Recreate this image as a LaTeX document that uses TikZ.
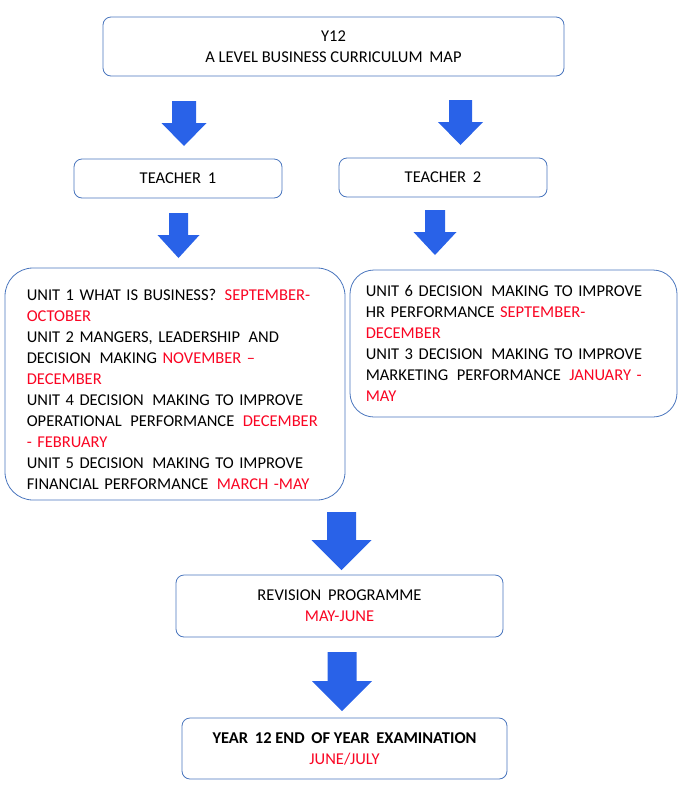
\documentclass[tikz,border=0pt]{standalone}
\usepackage{fontspec}
\setmainfont{Carlito}
\usepackage{xcolor}
\usepackage{tikz}
\usetikzlibrary{positioning}

\definecolor{boxline}{RGB}{74,118,190}
\definecolor{arrowblue}{RGB}{41,98,232}
\definecolor{datered}{RGB}{250,5,35}

% block arrow pointing down: centre x, top y, head start y, tip y, shaft half, head half
\newcommand{\downblock}[6]{%
  \fill[arrowblue] (#1-#5,#2) -- (#1+#5,#2) -- (#1+#5,#3) -- (#1+#6,#3)
    -- (#1,#4) -- (#1-#6,#3) -- (#1-#5,#3) -- cycle;}
\newcommand{\red}[1]{\textcolor{datered}{#1}}
\newcommand{\wsp}{\hspace{3pt}}

\begin{document}
\begin{tikzpicture}[x=1pt,y=-1pt,
                every node/.append style = {font=\fontsize{16.5}{21}\selectfont},
                roundbox/.style = {draw=boxline, line width=0.8pt, rounded corners=8pt,
                    fill=white, inner sep=0pt, align=center},
                unitbox/.style = {roundbox, rounded corners=28pt},
                unittext/.style = {inner sep=0pt, align=left}]
            \useasboundingbox (0,0) rectangle (679,804);
            % heading
            \node[roundbox, minimum width=461pt, minimum height=59pt] (title) at (333.5,46.5)
                {Y12\\A LEVEL BUSINESS CURRICULUM\wsp{} MAP};
            \downblock{184}{101}{123}{146}{12}{22.5}
            \downblock{460.5}{100}{122}{145}{11.5}{22.5}
            % teachers
            \node[roundbox, minimum width=208pt, minimum height=39pt] (teachA) at (178,178.5) {TEACHER\wsp{} 1};
            \node[roundbox, minimum width=208pt, minimum height=39pt] (teachB) at (443,177.5) {TEACHER\wsp{} 2};
            \downblock{178.5}{213}{235}{258}{9.5}{21}
            \downblock{435}{210}{232}{255}{10}{21.5}
            % units
            \node[unitbox, minimum width=340pt, minimum height=232pt] (unitsA) at (175,384) {};
            \node[unittext, text width=300pt, anchor=west] (unitsAtext) at ([xshift=22pt,yshift=-5pt]unitsA.west)
                {UNIT 1 WHAT IS BUSINESS?\wsp{} \red{SEPTEMBER-}\\
                 \red{OCTOBER}\\
                 UNIT 2 MANGERS, LEADERSHIP\wsp{} AND\\
                 DECISION\wsp{} MAKING \red{NOVEMBER --}\\
                 \red{DECEMBER}\\
                 UNIT 4 DECISION\wsp{} MAKING TO IMPROVE\\
                 OPERATIONAL\wsp{} PERFORMANCE\wsp{} \red{DECEMBER}\\
                 \red{- FEBRUARY}\\
                 UNIT 5 DECISION\wsp{} MAKING TO IMPROVE\\
                 FINANCIAL PERFORMANCE\wsp{} \red{MARCH -MAY}};
            \node[unitbox, rounded corners=24pt, minimum width=327pt, minimum height=147pt] (unitsB) at (513.5,343.5) {};
            \node[unittext, text width=300pt, anchor=west] (unitsBtext) at ([xshift=16pt]unitsB.west)
                {UNIT 6 DECISION\wsp{} MAKING TO IMPROVE\\
                 HR PERFORMANCE \red{SEPTEMBER-}\\
                 \red{DECEMBER}\\
                 UNIT 3 DECISION\wsp{} MAKING TO IMPROVE\\
                 MARKETING\wsp{} PERFORMANCE\wsp{} \red{JANUARY -}\\
                 \red{MAY}};
            \downblock{341.5}{512}{540}{570}{14.5}{30}
            % revision and exam
            \node[roundbox, minimum width=327pt, minimum height=62pt] (revise) at (339.5,606)
                {REVISION\wsp{} PROGRAMME\\\red{MAY-JUNE}};
            \downblock{342}{652}{681}{711}{14.5}{30}
            \node[roundbox, minimum width=325pt, minimum height=61pt] (exam) at (344.5,748.5)
                {\textbf{YEAR\wsp{} 12 END\wsp{} OF YEAR\wsp{} EXAMINATION}\\\red{JUNE/JULY}};
            \end{tikzpicture}
\end{document}
